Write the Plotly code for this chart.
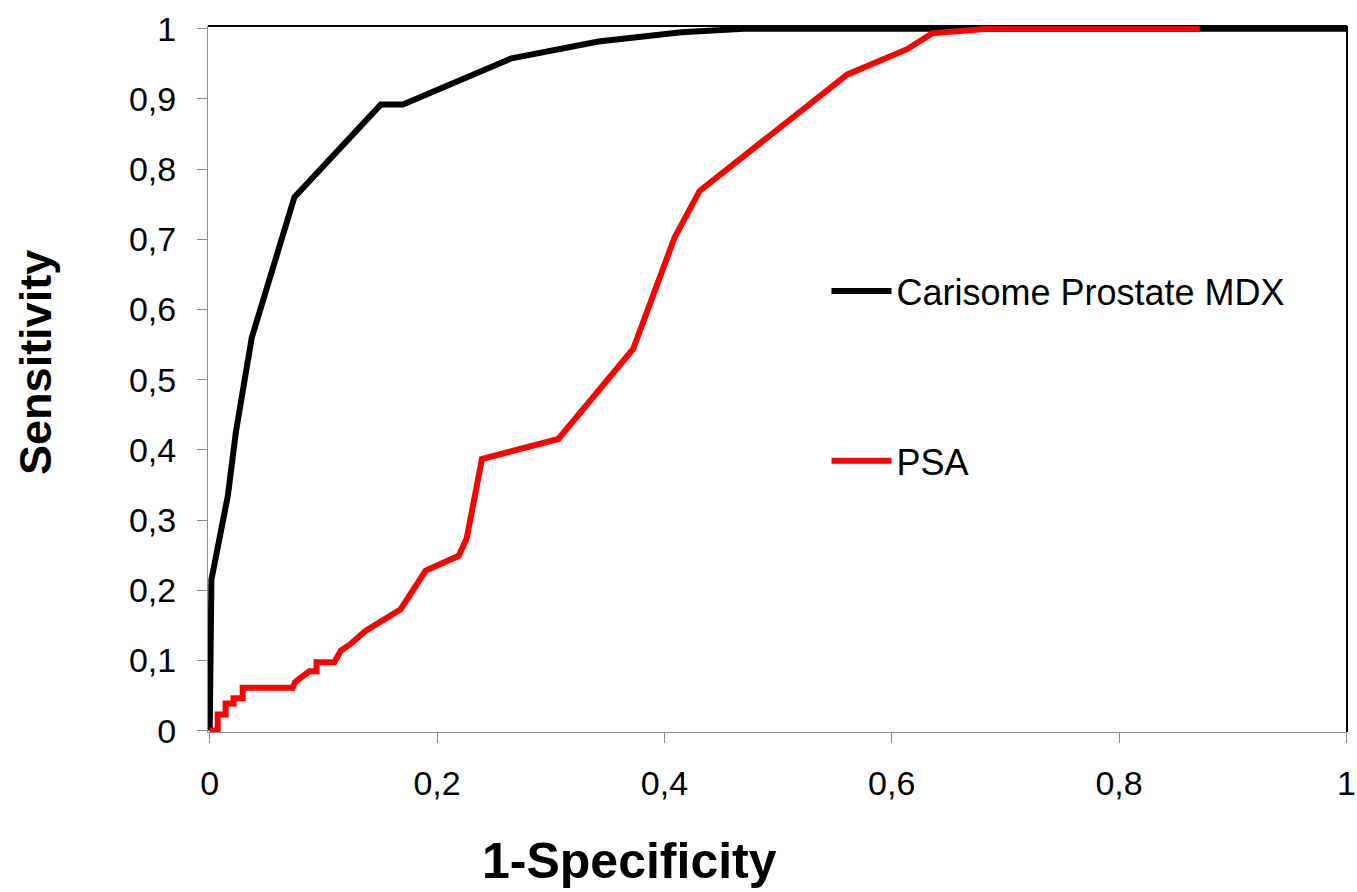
import plotly.graph_objects as go

# Carisome Prostate MDX ROC curve
cari_fpr = [0.0, 0.0015, 0.016, 0.023, 0.037, 0.0745, 0.1505, 0.170, 0.2656, 0.342, 0.415, 0.47, 1.0]
cari_tpr = [0.0, 0.215, 0.335, 0.425, 0.56, 0.76, 0.892, 0.892, 0.958, 0.982, 0.995, 1.0, 1.0]

# PSA ROC curve
psa_fpr = [0.0, 0.007, 0.007, 0.014, 0.014, 0.021, 0.021, 0.029, 0.029, 0.073, 0.075, 0.0876, 0.094, 0.094,
           0.1096, 0.1154, 0.124, 0.137, 0.168, 0.19, 0.219, 0.226, 0.2395, 0.3067, 0.3725, 0.409, 0.431,
           0.517, 0.561, 0.6135, 0.6354, 0.684, 0.871]
psa_tpr = [0.0, 0.0, 0.023, 0.023, 0.0385, 0.0385, 0.046, 0.046, 0.061, 0.061, 0.069, 0.0845, 0.0845, 0.0973,
           0.0973, 0.114, 0.1235, 0.142, 0.173, 0.228, 0.249, 0.2735, 0.387, 0.4155, 0.5437, 0.7027, 0.769,
           0.88, 0.935, 0.971, 0.9935, 1.0, 1.0]

x_tickvals = [0, 0.2, 0.4, 0.6, 0.8, 1.0]
x_ticktext = ["0", "0,2", "0,4", "0,6", "0,8", "1"]
y_tickvals = [0, 0.1, 0.2, 0.3, 0.4, 0.5, 0.6, 0.7, 0.8, 0.9, 1.0]
y_ticktext = ["0", "0,1", "0,2", "0,3", "0,4", "0,5", "0,6", "0,7", "0,8", "0,9", "1"]

FONT = "Liberation Sans, Arial, sans-serif"
GREY = "#8c8c8c"

fig = go.Figure()
fig.add_trace(go.Scatter(x=cari_fpr, y=cari_tpr, mode="lines", name="Carisome Prostate MDX",
                         line=dict(color="#000000", width=6), legendgroup="a"))
fig.add_trace(go.Scatter(x=psa_fpr, y=psa_tpr, mode="lines", name="PSA",
                         line=dict(color="#ff0000", width=6), legendgroup="b"))

fig.update_layout(
    width=1357, height=892,
    margin=dict(l=208, r=10, t=26, b=160, autoexpand=False),
    paper_bgcolor="white", plot_bgcolor="white",
    font=dict(family=FONT, size=34, color="black"),
    showlegend=True,
    legend=dict(x=0.543, y=0.667, xanchor="left", yanchor="top",
                bgcolor="rgba(0,0,0,0)", font=dict(size=36),
                tracegroupgap=120, traceorder="grouped", itemwidth=60),
    xaxis=dict(range=[-0.0015, 1.0005], tickvals=x_tickvals, ticktext=x_ticktext,
               showgrid=False, zeroline=False, showline=True, linecolor=GREY, linewidth=1,
               ticks="outside", ticklen=10, tickcolor=GREY, tickwidth=1, automargin=False,
               tickfont=dict(size=34), ticklabelstandoff=11, ticklabeloverflow="allow"),
    yaxis=dict(range=[-0.002, 1.004], tickvals=y_tickvals, ticktext=y_ticktext,
               showgrid=False, zeroline=False, showline=True, linecolor=GREY, linewidth=1,
               ticks="outside", ticklen=10, tickcolor=GREY, tickwidth=1, automargin=False,
               tickfont=dict(size=34), ticklabelstandoff=14),
    shapes=[
        dict(type="line", xref="paper", yref="paper", x0=0, x1=1, y0=1, y1=1,
             line=dict(color="black", width=2), layer="below"),
        dict(type="line", xref="paper", yref="paper", x0=1, x1=1, y0=0, y1=1,
             line=dict(color="black", width=2), layer="below"),
    ],
    annotations=[
        dict(text="<b>1-Specificity</b>", xref="paper", yref="paper", x=0.37, y=-0.183,
             xanchor="center", yanchor="middle", showarrow=False, font=dict(size=50)),
        dict(text="<b>Sensitivity</b>", xref="paper", yref="paper", x=-0.152, y=0.524,
             xanchor="center", yanchor="middle", showarrow=False, textangle=-90,
             font=dict(size=45)),
    ],
)

fig.write_html("out.html")
